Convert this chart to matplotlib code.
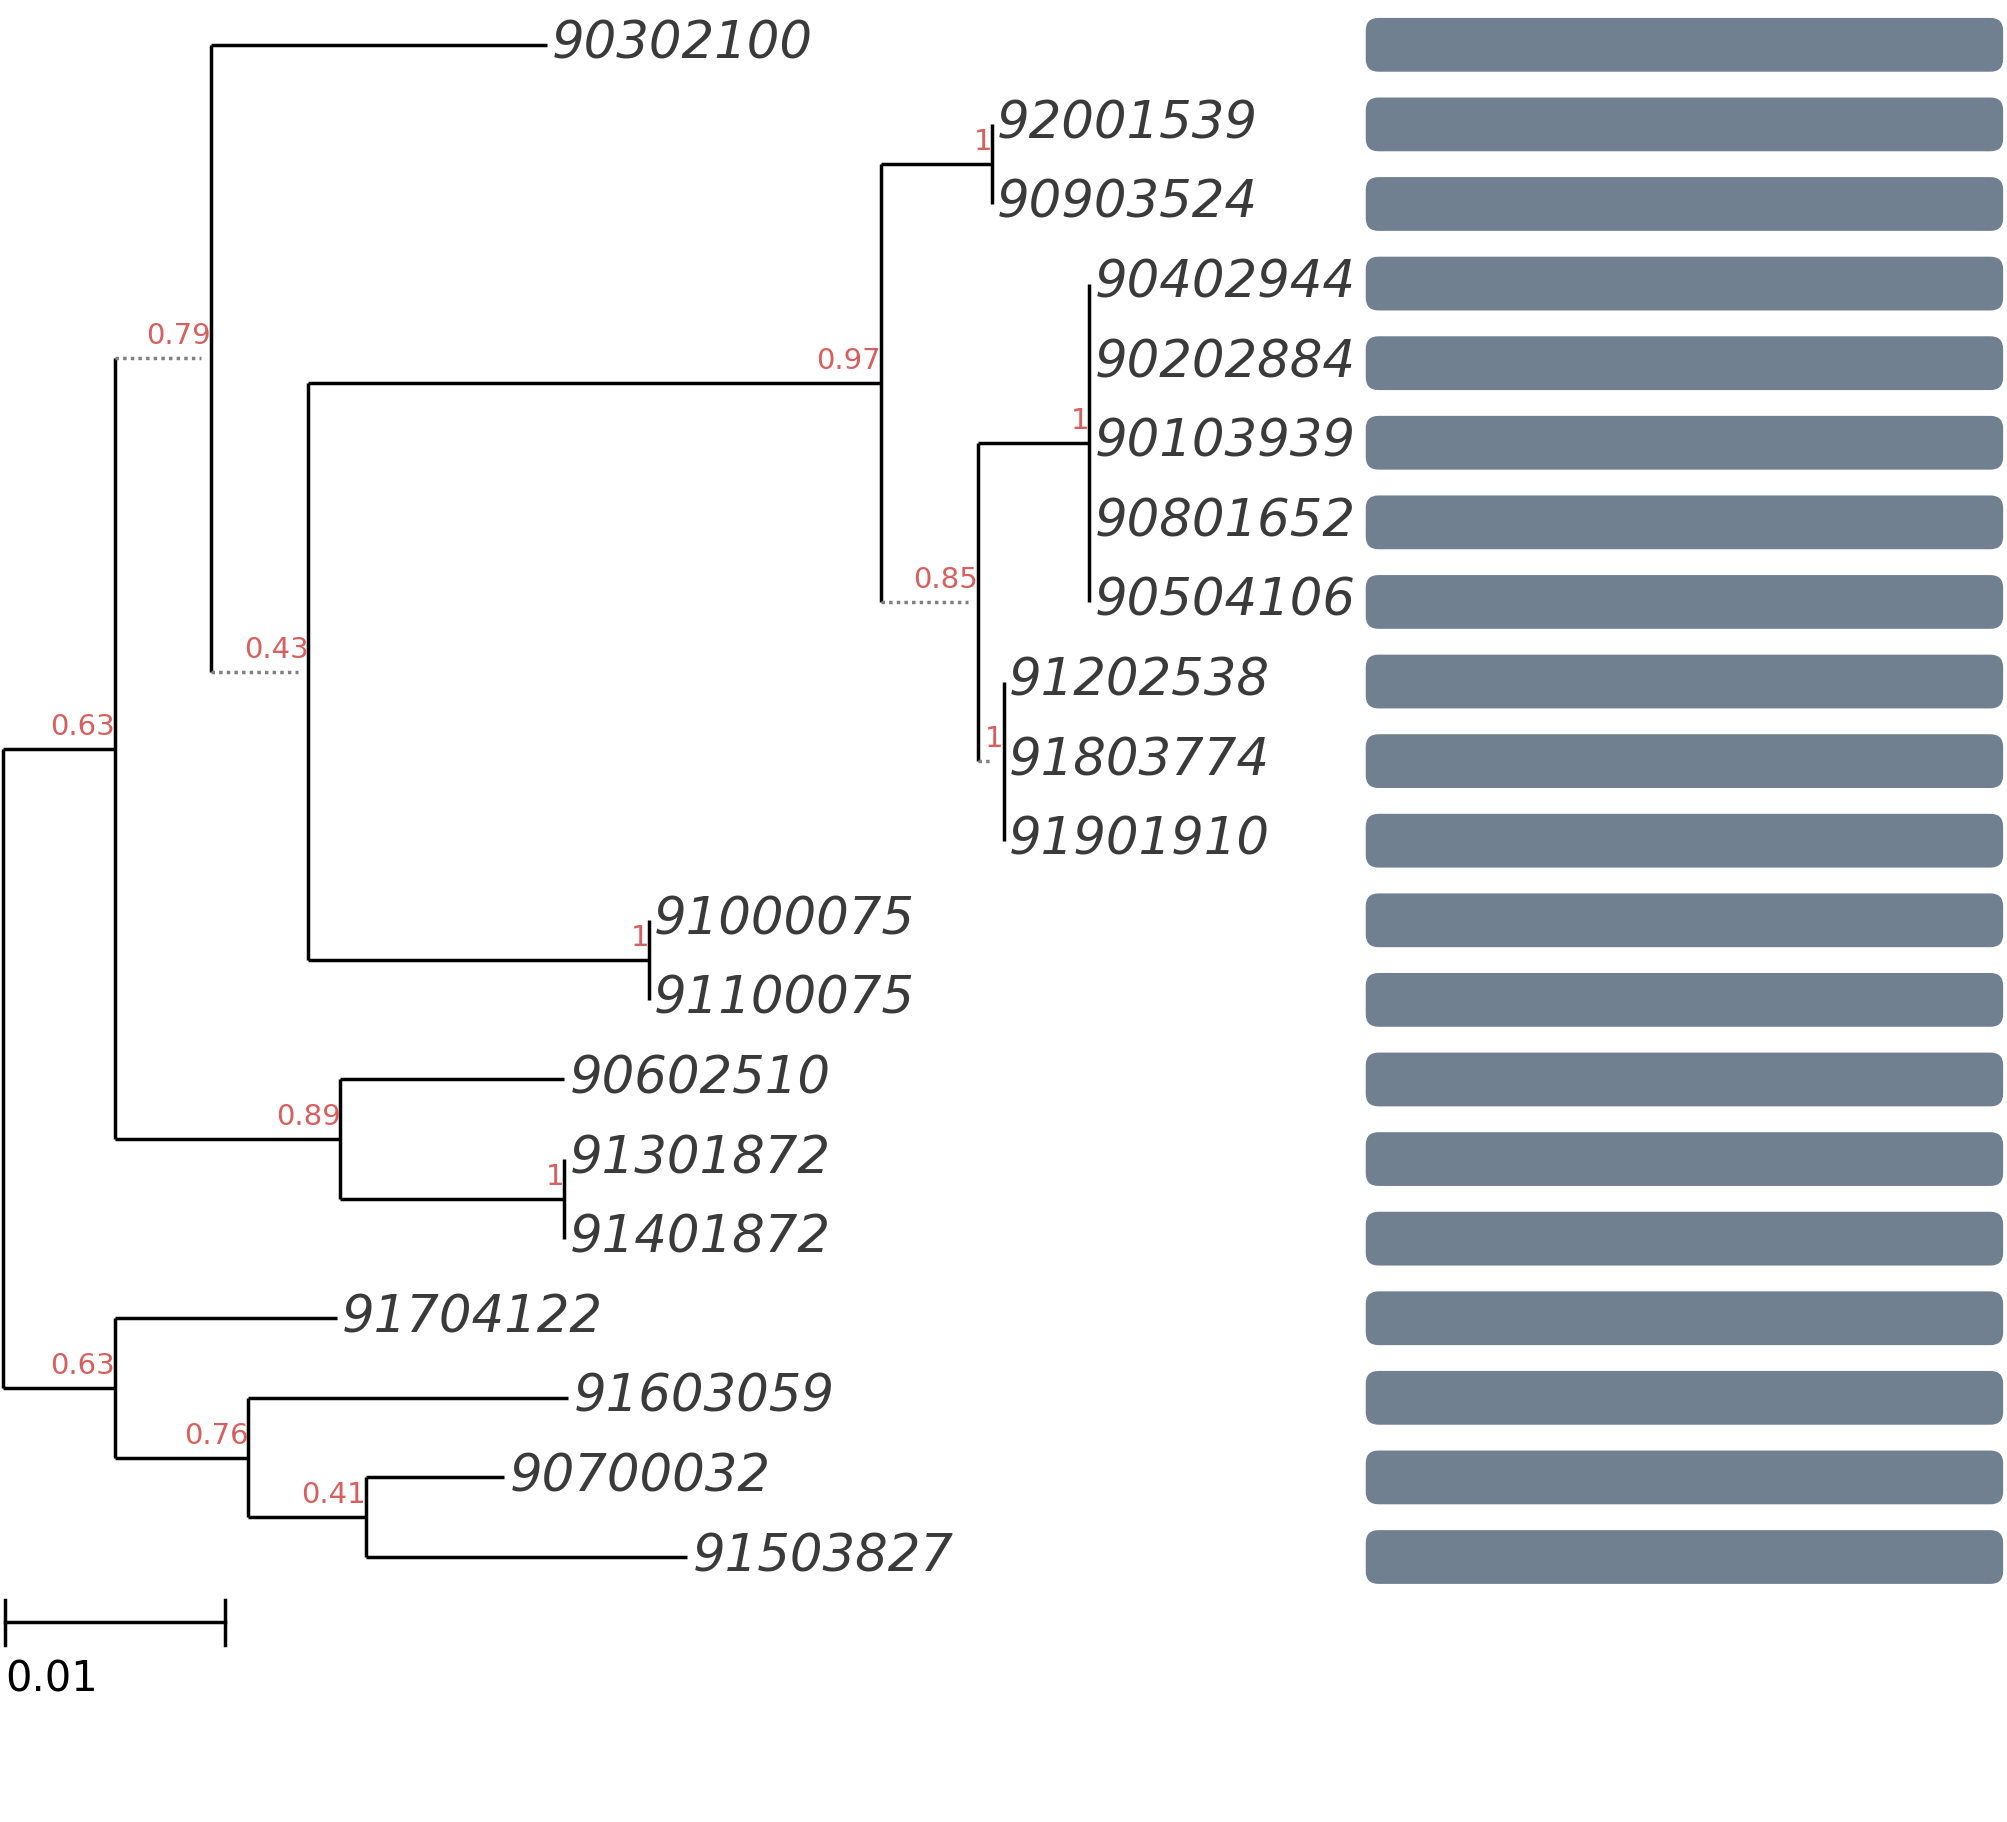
import matplotlib
matplotlib.use('Agg')
import matplotlib.pyplot as plt
from matplotlib.patches import FancyBboxPatch

# tree: (name, branch_length, support, dotted, children)
leaf_order = ['90302100', '92001539', '90903524', '90402944', '90202884', '90103939',
              '90801652', '90504106', '91202538', '91803774', '91901910', '91000075',
              '91100075', '90602510', '91301872', '91401872', '91704122', '91603059',
              '90700032', '91503827']

U = 1 / 17200.0  # one reference pixel in substitutions


def leaf(name, px):
    return (name, px * U, None, False, [])


tree = ('root', 0, None, False, [
    ('A', 88 * U, '0.63', False, [
        ('B', 75 * U, '0.79', True, [
            leaf('90302100', 262),
            ('C', 76 * U, '0.43', True, [
                ('D', 447 * U, '0.97', False, [
                    ('E', 87 * U, '1', False, [leaf('92001539', 0), leaf('90903524', 0)]),
                    ('F', 76 * U, '0.85', True, [
                        ('G', 87 * U, '1', False, [leaf(n, 0) for n in
                                                   ['90402944', '90202884', '90103939',
                                                    '90801652', '90504106']]),
                        ('H', 20 * U, '1', True, [leaf(n, 0) for n in
                                                  ['91202538', '91803774', '91901910']]),
                    ]),
                ]),
                ('I', 266 * U, '1', False, [leaf('91000075', 0), leaf('91100075', 0)]),
            ]),
        ]),
        ('J', 176 * U, '0.89', False, [
            leaf('90602510', 175),
            ('K', 175 * U, '1', False, [leaf('91301872', 0), leaf('91401872', 0)]),
        ]),
    ]),
    ('L', 88 * U, '0.63', False, [
        leaf('91704122', 173),
        ('M', 104 * U, '0.76', False, [
            leaf('91603059', 250),
            ('N', 92 * U, '0.41', False, [leaf('90700032', 108), leaf('91503827', 251)]),
        ]),
    ]),
])

scale_len = 0.01
red = '#d65f5f'
bar_color = '#708090'

fig = plt.figure(figsize=(20.07, 18.22), dpi=100)
ax = fig.add_axes([0, 0, 1, 1])
ax.set_xlim(-2 * U, 1566 * U)
ax.set_ylim((1423 - 35) / 62.16, -35 / 62.16)
ax.axis('off')


def draw(node, x0):
    name, bl, sup, dotted, kids = node
    x = x0 + bl
    if not kids:
        y = leaf_order.index(name)
        ax.text(x + 4 * U, y, name, fontsize=37, style='italic', color='#3a3a3a',
                va='center', ha='left')
        return x, y
    ys = [draw(k, x)[1] for k in kids]
    ax.plot([x, x], [min(ys), max(ys)], color='black', lw=2.5, solid_capstyle='butt')
    y = (min(ys) + max(ys)) / 2
    for k, ky in zip(kids, ys):
        kx = x + k[1]
        if k[3]:
            ax.plot([x, kx - 8 * U], [ky, ky], color='gray', lw=2.5, ls=(0, (1, 1.2)))
        else:
            ax.plot([x, kx], [ky, ky], color='black', lw=2.5, solid_capstyle='butt')
    if sup:
        ax.text(x, y - 0.1, sup, fontsize=21, color=red, ha='right', va='bottom')
    return x, y


draw(tree, 0)

# bars
for i in range(len(leaf_order)):
    h = 42 / 62.16
    ax.add_patch(FancyBboxPatch((1065 * U, i - h / 2), 498 * U, h,
                                boxstyle='round,pad=0,rounding_size=%f' % (10 * U),
                                mutation_aspect=17200 / 62.16,
                                fc=bar_color, ec='none'))

# scale bar
sy = (1267 - 35) / 62.16
ax.plot([2 * U, 2 * U + scale_len], [sy, sy], color='black', lw=2.5)
for sx in [2 * U, 2 * U + scale_len]:
    ax.plot([sx, sx], [sy - 0.28, sy + 0.28], color='black', lw=2.5)
ax.text(2 * U, (1312 - 35) / 62.16, '0.01', fontsize=30, va='center', ha='left')

fig.savefig('out.png')
